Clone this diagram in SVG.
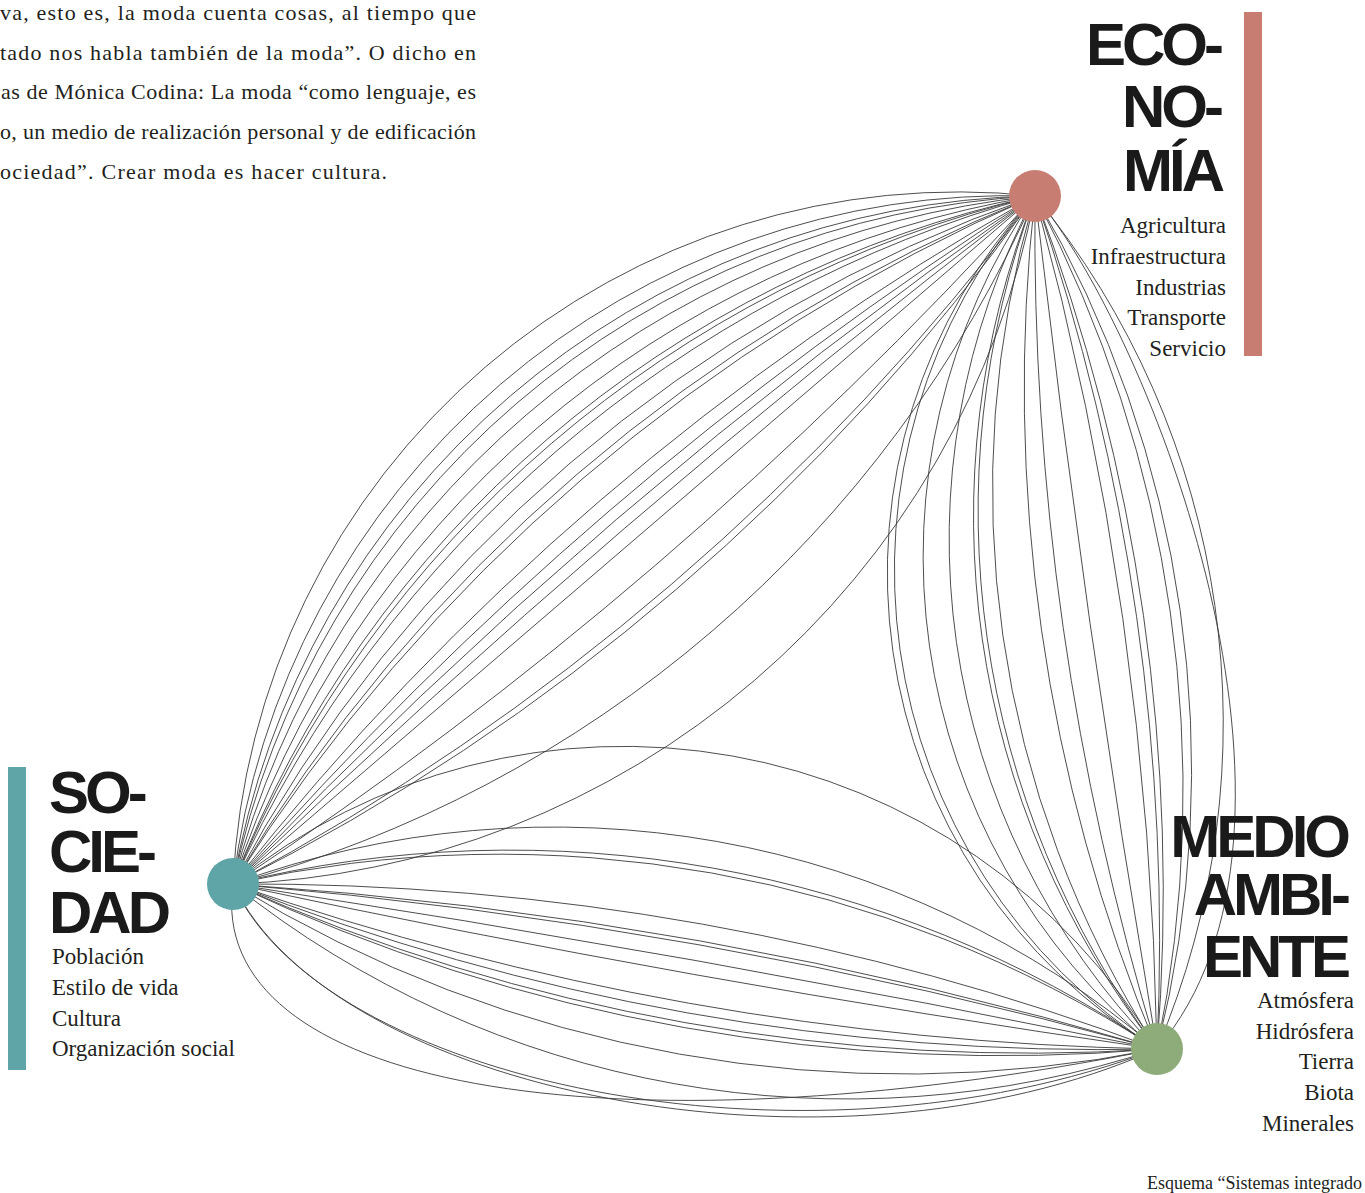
<svg xmlns="http://www.w3.org/2000/svg" width="1365" height="1193" viewBox="0 0 1365 1193">
<style>
.c{fill:none;stroke:#3a3a3a;stroke-width:0.9}
.p{font-family:"Liberation Serif",serif;font-size:22px;fill:#231f20}
.h{font-family:"Liberation Sans",Arial,sans-serif;font-weight:bold;font-size:60px;letter-spacing:-4px;fill:#1a1a1a}
.i{font-family:"Liberation Serif",serif;font-size:23px;fill:#231f20}
.cap{font-family:"Liberation Serif",serif;font-size:18px;fill:#231f20}
</style>
<rect width="1365" height="1193" fill="#ffffff"/>
<g id="paragraph">
<text class="p" x="0" y="20" textLength="476" lengthAdjust="spacing">va, esto es, la moda cuenta cosas, al tiempo que</text>
<text class="p" x="0" y="59.5" textLength="476" lengthAdjust="spacing">tado nos habla también de la moda”. O dicho en</text>
<text class="p" x="1" y="99" textLength="475" lengthAdjust="spacing">as de Mónica Codina: La moda “como lenguaje, es</text>
<text class="p" x="0" y="139" textLength="476" lengthAdjust="spacing">o, un medio de realización personal y de edificación</text>
<text class="p" x="0" y="179" textLength="387" lengthAdjust="spacing">ociedad”. Crear moda es hacer cultura.</text>
</g>
<g id="connectors">
<!-- Sociedad - Economia -->
<path class="c" d="M233,884 A726,726 0 0,1 1035,196"/>
<path class="c" d="M233,884 A783,783 0 0,1 1035,196"/>
<path class="c" d="M233,884 A830,830 0 0,1 1035,196"/>
<path class="c" d="M233,884 A865,865 0 0,1 1035,196"/>
<path class="c" d="M233,884 A928,928 0 0,1 1035,196"/>
<path class="c" d="M233,884 A1017,1017 0 0,1 1035,196"/>
<path class="c" d="M233,884 A1116,1116 0 0,1 1035,196"/>
<path class="c" d="M233,884 A1162,1162 0 0,1 1035,196"/>
<path class="c" d="M233,884 A1242,1242 0 0,1 1035,196"/>
<path class="c" d="M233,884 A1446,1446 0 0,1 1035,196"/>
<path class="c" d="M233,884 A1648,1648 0 0,1 1035,196"/>
<path class="c" d="M233,884 A1785,1785 0 0,1 1035,196"/>
<path class="c" d="M233,884 A2710,2710 0 0,1 1035,196"/>
<path class="c" d="M233,884 A3692,3692 0 0,1 1035,196"/>
<path class="c" d="M233,884 A5183,5183 0 0,1 1035,196"/>
<path class="c" d="M233,884 A9312,9312 0 0,1 1035,196"/>
<path class="c" d="M233,884 L1035,196"/>
<path class="c" d="M233,884 A4246,4246 0 0,0 1035,196"/>
<path class="c" d="M233,884 A2435,2435 0 0,0 1035,196"/>
<path class="c" d="M233,884 A2180,2180 0 0,0 1035,196"/>
<path class="c" d="M233,884 A1223,1223 0 0,0 1035,196"/>
<path class="c" d="M233,884 A847,847 0 0,0 1035,196"/>
<!-- Economia - Medio ambiente -->
<path class="c" d="M1035,196 A555,555 0 0,0 1157,1049"/>
<path class="c" d="M1035,196 A568,568 0 0,0 1157,1049"/>
<path class="c" d="M1035,196 A636,636 0 0,0 1157,1049"/>
<path class="c" d="M1035,196 A729,729 0 0,0 1157,1049"/>
<path class="c" d="M1035,196 A865,865 0 0,0 1157,1049"/>
<path class="c" d="M1035,196 A899,899 0 0,0 1157,1049"/>
<path class="c" d="M1035,196 A1034,1034 0 0,0 1157,1049"/>
<path class="c" d="M1035,196 A1715,1715 0 0,0 1157,1049"/>
<path class="c" d="M1035,196 A2829,2829 0 0,0 1157,1049"/>
<path class="c" d="M1035,196 A15471,15471 0 0,0 1157,1049"/>
<path class="c" d="M1035,196 A3451,3451 0 0,1 1157,1049"/>
<path class="c" d="M1035,196 A2284,2284 0 0,1 1157,1049"/>
<path class="c" d="M1035,196 A1958,1958 0 0,1 1157,1049"/>
<path class="c" d="M1035,196 A1275,1275 0 0,1 1157,1049"/>
<path class="c" d="M1035,196 A1134,1134 0 0,1 1157,1049"/>
<path class="c" d="M1035,196 A833,833 0 0,1 1157,1049"/>
<path class="c" d="M1035,196 C1150,330 1345,830 1157,1049"/>
<!-- Sociedad - Medio ambiente -->
<path class="c" d="M233,884 A622,622 0 0,1 1157,1049"/>
<path class="c" d="M233,884 A931,931 0 0,1 1157,1049"/>
<path class="c" d="M233,884 A1151,1151 0 0,1 1157,1049"/>
<path class="c" d="M233,884 A1207,1207 0 0,1 1157,1049"/>
<path class="c" d="M233,884 A2583,2583 0 0,1 1157,1049"/>
<path class="c" d="M233,884 A4249,4249 0 0,1 1157,1049"/>
<path class="c" d="M233,884 A5017,5017 0 0,1 1157,1049"/>
<path class="c" d="M233,884 A18357,18357 0 0,1 1157,1049"/>
<path class="c" d="M233,884 A13770,13770 0 0,0 1157,1049"/>
<path class="c" d="M233,884 A2995,2995 0 0,0 1157,1049"/>
<path class="c" d="M233,884 A2367,2367 0 0,0 1157,1049"/>
<path class="c" d="M233,884 A1961,1961 0 0,0 1157,1049"/>
<path class="c" d="M233,884 A1807,1807 0 0,0 1157,1049"/>
<path class="c" d="M233,884 A1282,1282 0 0,0 1157,1049"/>
<path class="c" d="M233,884 A985,985 0 0,0 1157,1049"/>
<path class="c" d="M233,884 C320,1080 800,1185 1157,1049"/>
<path class="c" d="M233,884 C330,1090 830,1195 1157,1049"/>
<path class="c" d="M233,884 C205,1085 600,1160 1157,1049"/>
</g>
<g id="economia">
<rect x="1244" y="12" width="18" height="344" fill="#c87d72"/>
<circle cx="1035" cy="196" r="26" fill="#c87d72"/>
<text class="h" x="1220" y="65" text-anchor="end">ECO-</text>
<text class="h" x="1220" y="127" text-anchor="end">NO-</text>
<text class="h" x="1221" y="191" text-anchor="end">MÍA</text>
<text class="i" x="1226" y="233" text-anchor="end">Agricultura</text>
<text class="i" x="1226" y="264" text-anchor="end">Infraestructura</text>
<text class="i" x="1226" y="295" text-anchor="end">Industrias</text>
<text class="i" x="1226" y="325" text-anchor="end">Transporte</text>
<text class="i" x="1226" y="356" text-anchor="end">Servicio</text>
</g>
<g id="sociedad">
<rect x="8" y="767" width="18" height="303" fill="#5fa5a8"/>
<circle cx="233" cy="884" r="26" fill="#5fa5a8"/>
<text class="h" x="49" y="813">SO-</text>
<text class="h" x="49" y="872">CIE-</text>
<text class="h" x="49" y="933">DAD</text>
<text class="i" x="52" y="964">Población</text>
<text class="i" x="52" y="995">Estilo de vida</text>
<text class="i" x="52" y="1026">Cultura</text>
<text class="i" x="52" y="1056">Organización social</text>
</g>
<g id="medio-ambiente">
<circle cx="1157" cy="1049" r="26" fill="#8dac7a"/>
<text class="h" x="1347" y="857" text-anchor="end">MEDIO</text>
<text class="h" x="1347" y="915" text-anchor="end">AMBI-</text>
<text class="h" x="1347" y="977" text-anchor="end">ENTE</text>
<text class="i" x="1354" y="1008" text-anchor="end">Atmósfera</text>
<text class="i" x="1354" y="1039" text-anchor="end">Hidrósfera</text>
<text class="i" x="1354" y="1069" text-anchor="end">Tierra</text>
<text class="i" x="1354" y="1100" text-anchor="end">Biota</text>
<text class="i" x="1354" y="1131" text-anchor="end">Minerales</text>
</g>
<g id="caption">
<text class="cap" x="1147" y="1189">Esquema “Sistemas integrado</text>
</g>
</svg>
